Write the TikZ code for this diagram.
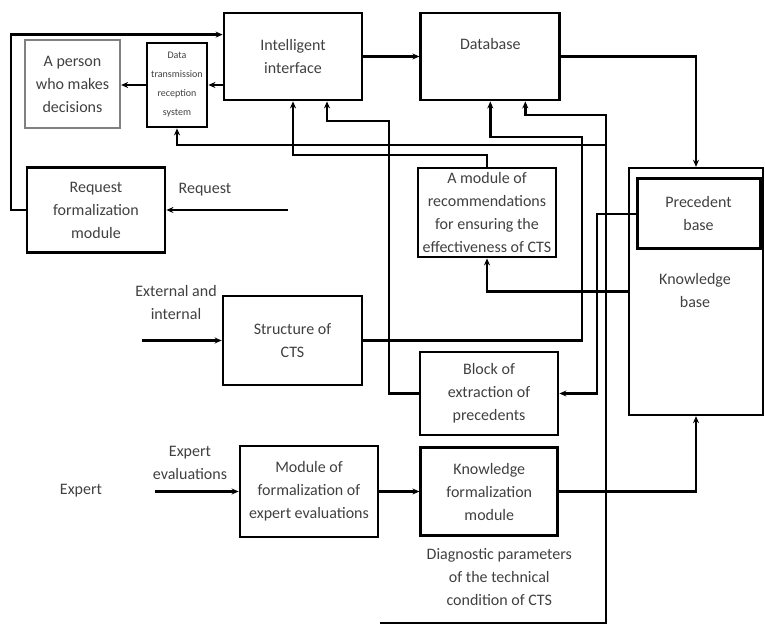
\documentclass[tikz,border=0pt]{standalone}
\usepackage{fontspec}
\setmainfont{Carlito}
\usepackage{tikz}
\usetikzlibrary{positioning,arrows.meta}
\definecolor{txtgray}{gray}{0.25}

\begin{document}
\begin{tikzpicture}[x=1pt, y=-1pt, >={Stealth[length=7pt,width=6pt]},
  block/.style={draw, rectangle, line width=2.8pt, align=center, text=txtgray, inner sep=2pt, font=\fontsize{16}{23}\selectfont},
  conn/.style={line width=2.4pt},
  lbl/.style={align=center, text=txtgray, inner sep=1pt, font=\fontsize{16}{23}\selectfont}]
\useasboundingbox (0,0) rectangle (765,628);

% upper row
\node[block, draw=gray, line width=2.2pt, minimum width=95pt, minimum height=88pt] (person) at (72.5,84) {A person\\who makes\\decisions};
\node[block, minimum width=60pt, minimum height=84pt, font=\fontsize{10}{19}\selectfont] (dts) at (177,85) {Data\\transmission\\reception\\system};
\node[block, minimum width=138pt, minimum height=87pt] (iface) at (293,56.5) {Intelligent\\interface};
\node[block, minimum width=139pt, minimum height=87pt, right=56pt of iface] (db) {Database\\[2pt]\mbox{}};

% middle
\node[block, minimum width=138pt, minimum height=85pt] (req) at (96,210) {Request\\formalization\\module};
\node[block, minimum width=138pt, minimum height=89pt] (rec) at (487,212.5) {A module of\\recommendations\\for ensuring the\\effectiveness of CTS};
\node[block, line width=2.4pt, minimum width=134pt, minimum height=247pt] (kb) at (696,291.5) {};
\node[block, line width=3pt, minimum width=123pt, minimum height=70pt] (prec) at (698.5,214) {Precedent\\base};
\node[lbl] (kbtext) at (695,291) {Knowledge\\base};
\node[block, minimum width=139pt, minimum height=89pt] (struct) at (292.5,340.5) {Structure of\\CTS};
\node[block, minimum width=138pt, minimum height=83pt] (blk) at (489,393.5) {Block of\\extraction of\\precedents};

% lower row
\node[block, minimum width=138pt, minimum height=91pt] (modexp) at (309,491.5) {Module of\\formalization of\\expert evaluations};
\node[block, minimum width=137pt, minimum height=88pt, right=40pt of modexp] (kfm) {Knowledge\\formalization\\module};
\node[lbl, below=10pt of kfm, xshift=10pt] (diag) {Diagnostic parameters\\of the technical\\condition of CTS};

% inputs
\node[lbl] (reqlbl) at (205,190) {Request};
\node[lbl] (extlbl) at (176,303) {External and\\internal};
\node[lbl] (explbl) at (81,491) {Expert};
\node[lbl] (evallbl) at (190,463) {Expert\\evaluations};
\coordinate (reqin) at (288,210);
\coordinate (extin) at (142,340.5);
\coordinate (expin) at (155,491.5);
\coordinate (diagin) at (380,623);

% connectors
\draw[conn,->] (iface) -- (db);
\draw[conn,->] (iface.west |- dts) -- (dts);
\draw[conn,->] (dts.west) -- (person.east |- dts.west);
\draw[conn,->] (req.west) -- (11,210) |- ([yshift=-23pt]iface.north west);
\draw[conn,->] (reqin) -- (req.east);
\draw[conn,->] (db.east) -| (kb.north);
\draw[conn,->] (struct.east) -| (582,137) -| (db.south);
\draw[conn,->] (diagin) -| (606,115) -| ([xshift=35pt]db.south);
\draw[conn,->] (606,145) -| (dts.south);
\draw[conn,->] (rec.north) |- (iface.south |- 0,155) -- (iface.south);
\draw[conn,->] (blk.west) -| (389,121) -| ([xshift=34pt]iface.south);
\draw[conn,->] (prec.west) -- (597,214) |- (blk.east);
\draw[conn,->] (kb.west) -| (rec.south);
\draw[conn,->] (extin) -- (struct.west);
\draw[conn,->] (expin) -- (modexp.west);
\draw[conn,->] (modexp) -- (kfm);
\draw[conn,->] (kfm.east) -| (kb.south);
\end{tikzpicture}
\end{document}
